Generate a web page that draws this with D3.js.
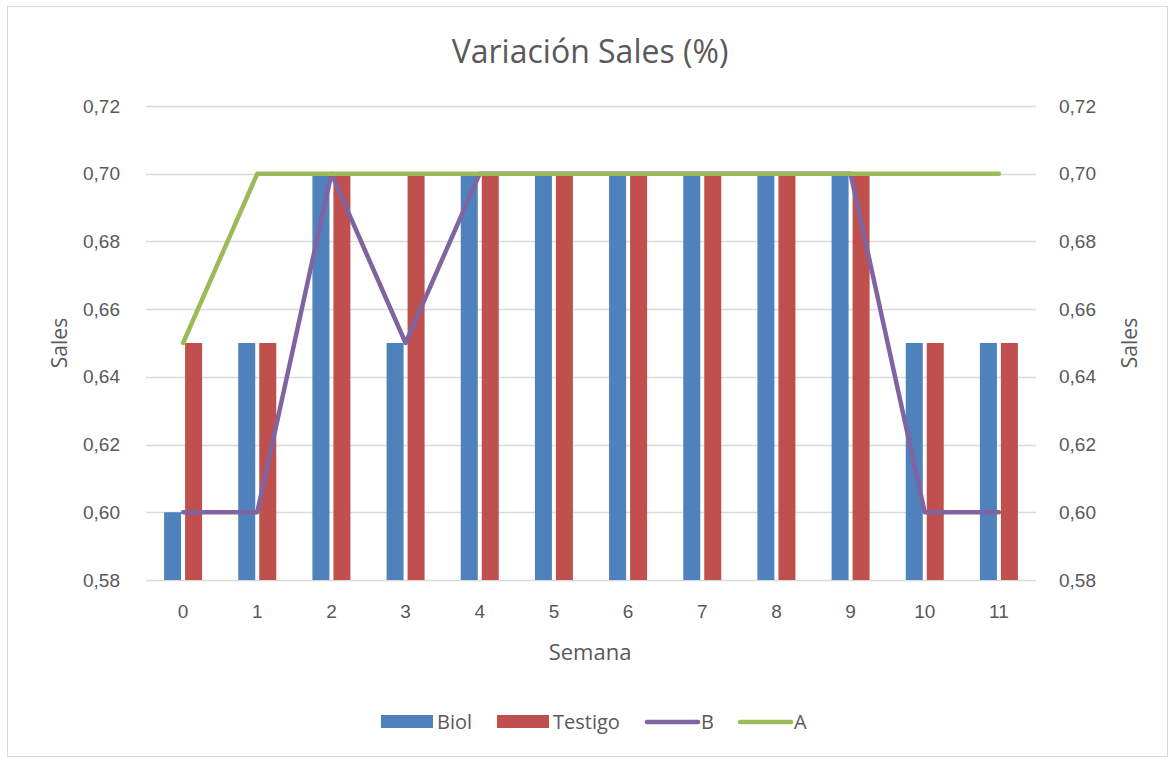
<!DOCTYPE html>
<html>
<head>
<meta charset="utf-8">
<script src="https://cdn.jsdelivr.net/npm/d3@7"></script>
<style>
  body { margin: 0; background: #fff; }
  svg { display: block; font-family: "Open Sans", "Liberation Sans", sans-serif; }
  .tick text { fill: #595959; font-size: 19px; }
</style>
</head>
<body>
<svg id="chart" width="1171" height="758"></svg>
<script>
/* Variación Sales (%) — bars for Biol/Testigo, lines for B/A */

const semanas = ["0", "1", "2", "3", "4", "5", "6", "7", "8", "9", "10", "11"];
const biol    = [0.60, 0.65, 0.70, 0.65, 0.70, 0.70, 0.70, 0.70, 0.70, 0.70, 0.65, 0.65];
const testigo = [0.65, 0.65, 0.70, 0.70, 0.70, 0.70, 0.70, 0.70, 0.70, 0.70, 0.65, 0.65];
const serieB  = [0.60, 0.60, 0.70, 0.65, 0.70, 0.70, 0.70, 0.70, 0.70, 0.70, 0.60, 0.60];
const serieA  = [0.65, 0.70, 0.70, 0.70, 0.70, 0.70, 0.70, 0.70, 0.70, 0.70, 0.70, 0.70];
const yTicks  = [0.58, 0.60, 0.62, 0.64, 0.66, 0.68, 0.70, 0.72];

const colors = { biol: "#4F81BD", testigo: "#C0504D", B: "#8064A2", A: "#9BBB59" };

const svg = d3.select("#chart");

/* outer chart border */
svg.append("rect")
  .attr("x", 7.5).attr("y", 6.5)
  .attr("width", 1160).attr("height", 750)
  .attr("fill", "none").attr("stroke", "#d9d9d9");

const plot = { left: 146, right: 1036, top: 106, bottom: 580 };

const x = d3.scaleBand().domain(semanas).range([plot.left, plot.right]);
const y = d3.scaleLinear().domain([0.58, 0.72]).range([plot.bottom, plot.top]);
const fmt = function (v) { return d3.format(".2f")(v).replace(".", ","); };

/* gridlines */
svg.append("g")
  .selectAll("line")
  .data(yTicks)
  .enter()
  .append("line")
  .attr("x1", plot.left).attr("x2", plot.right)
  .attr("y1", function (d) { return Math.round(y(d)) + 0.5; })
  .attr("y2", function (d) { return Math.round(y(d)) + 0.5; })
  .attr("stroke", "#d9d9d9").attr("stroke-width", 1.5);

/* axes */
const leftAxis = svg.append("g")
  .attr("transform", "translate(" + (plot.left - 23) + ",0)")
  .call(d3.axisLeft(y).tickValues(yTicks).tickFormat(fmt).tickSize(0));
leftAxis.select(".domain").remove();

const rightAxis = svg.append("g")
  .attr("transform", "translate(" + (plot.right + 20) + ",0)")
  .call(d3.axisRight(y).tickValues(yTicks).tickFormat(fmt).tickSize(0));
rightAxis.select(".domain").remove();

const bottomAxis = svg.append("g")
  .attr("transform", "translate(0," + (plot.bottom + 22) + ")")
  .call(d3.axisBottom(x).tickSize(0));
bottomAxis.select(".domain").remove();
bottomAxis.selectAll("text").attr("dy", "0.68em");

/* bars */
const barW = 17, gap = 4;
const bars = svg.append("g");
function drawBars(values, color, offset) {
  bars.selectAll(null)
    .data(values)
    .enter()
    .append("rect")
    .attr("x", function (d, i) { return x(semanas[i]) + x.bandwidth() / 2 + offset; })
    .attr("y", function (d) { return y(d); })
    .attr("width", barW)
    .attr("height", function (d) { return y(0.58) - y(d); })
    .attr("fill", color);
}
drawBars(biol, colors.biol, -gap / 2 - barW);
drawBars(testigo, colors.testigo, gap / 2);

/* lines */
const line = d3.line()
  .x(function (d, i) { return x(semanas[i]) + x.bandwidth() / 2; })
  .y(function (d) { return y(d); });

[[serieB, colors.B], [serieA, colors.A]].forEach(function (s) {
  svg.append("path")
    .datum(s[0])
    .attr("d", line)
    .attr("fill", "none")
    .attr("stroke", s[1])
    .attr("stroke-width", 4.5)
    .attr("stroke-linecap", "round")
    .attr("stroke-linejoin", "round");
});

/* titles */
svg.append("text")
  .attr("x", 590).attr("y", 63)
  .attr("text-anchor", "middle")
  .attr("fill", "#595959").attr("font-size", 32)
  .text("Variación Sales (%)");

svg.append("text")
  .attr("x", 590).attr("y", 660)
  .attr("text-anchor", "middle")
  .attr("fill", "#595959").attr("font-size", 22)
  .text("Semana");

svg.append("text")
  .attr("transform", "translate(67,343) rotate(-90)")
  .attr("text-anchor", "middle")
  .attr("fill", "#595959").attr("font-size", 21)
  .text("Sales");

svg.append("text")
  .attr("transform", "translate(1137,343) rotate(-90)")
  .attr("text-anchor", "middle")
  .attr("fill", "#595959").attr("font-size", 21)
  .text("Sales");

/* legend */
const legendItems = [
  { name: "Biol", color: colors.biol, type: "bar", x: 381 },
  { name: "Testigo", color: colors.testigo, type: "bar", x: 497 },
  { name: "B", color: colors.B, type: "line", x: 645 },
  { name: "A", color: colors.A, type: "line", x: 738 }
];
const legend = svg.append("g").attr("transform", "translate(0,722)");
legendItems.forEach(function (item) {
  if (item.type === "bar") {
    legend.append("rect")
      .attr("x", item.x).attr("y", -7)
      .attr("width", 52).attr("height", 13)
      .attr("fill", item.color);
  } else {
    legend.append("line")
      .attr("x1", item.x + 2).attr("x2", item.x + 53)
      .attr("y1", 0).attr("y2", 0)
      .attr("stroke", item.color).attr("stroke-width", 4.5)
      .attr("stroke-linecap", "round");
  }
  legend.append("text")
    .attr("x", item.x + 56).attr("y", 0)
    .attr("dy", "0.35em")
    .attr("fill", "#595959").attr("font-size", 20)
    .text(item.name);
});
</script>
</body>
</html>
